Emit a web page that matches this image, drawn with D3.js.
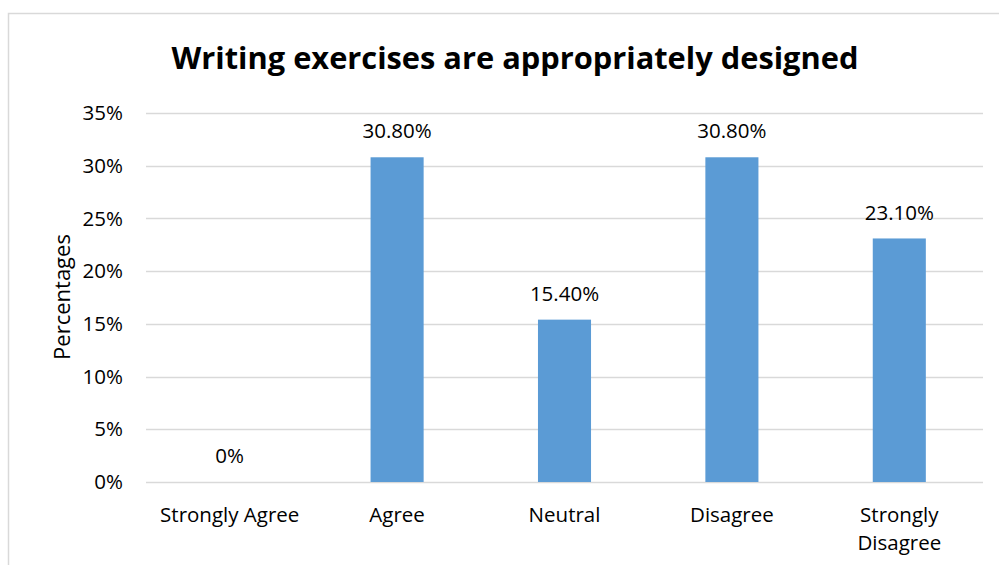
<!DOCTYPE html>
<html>
<head>
<meta charset="utf-8">
<script src="https://cdn.jsdelivr.net/npm/d3@7"></script>
<style>
  body { margin: 0; background: #fff; }
  text { font-family: "Open Sans", "Noto Sans", sans-serif; fill: #000; }
</style>
</head>
<body>
<div id="chart"></div>
<script>
// data
const categories = ["Strongly Agree", "Agree", "Neutral", "Disagree", "Strongly Disagree"];
const values = [0, 30.8, 15.4, 30.8, 23.1];
const valueLabels = ["0%", "30.80%", "15.40%", "30.80%", "23.10%"];
const yTicks = [0, 5, 10, 15, 20, 25, 30, 35];

const W = 999, H = 565;
const margin = { top: 113, right: 16, bottom: 83, left: 146 },
      width = W - margin.left - margin.right,
      height = H - margin.top - margin.bottom;

const root = d3.select("#chart").append("svg")
    .attr("width", W)
    .attr("height", H);

// chart border (top and left only visible)
root.append("path")
    .attr("d", `M8.5,${H} V13.5 H${W}`)
    .attr("fill", "none")
    .attr("stroke", "#d9d9d9")
    .attr("stroke-width", 1.5);

const svg = root.append("g")
    .attr("transform", `translate(${margin.left},${margin.top})`);

const x = d3.scaleBand()
    .domain(categories)
    .range([0, width])
    .paddingInner(0.683)
    .paddingOuter(0.3415);

const y = d3.scaleLinear()
    .domain([0, 35])
    .range([height, 0]);

// gridlines
svg.selectAll(".grid")
    .data(yTicks)
    .enter()
    .append("line")
    .attr("x1", 0)
    .attr("x2", width)
    .attr("y1", d => Math.round(y(d)) + 0.5)
    .attr("y2", d => Math.round(y(d)) + 0.5)
    .attr("stroke", "#d9d9d9")
    .attr("stroke-width", 1.3);

// y tick labels
svg.selectAll(".ytick")
    .data(yTicks)
    .enter()
    .append("text")
    .attr("x", -23)
    .attr("y", d => y(d))
    .attr("dy", "0.35em")
    .attr("text-anchor", "end")
    .style("font-size", "20.5px")
    .text(d => d + "%");

// bars
svg.selectAll(".bar")
    .data(values)
    .enter()
    .append("rect")
    .attr("x", (d, i) => x(categories[i]))
    .attr("y", d => y(d))
    .attr("width", x.bandwidth())
    .attr("height", d => height - y(d))
    .attr("fill", "#5b9bd5");

// value labels
svg.selectAll(".label")
    .data(values)
    .enter()
    .append("text")
    .attr("x", (d, i) => x(categories[i]) + x.bandwidth() / 2)
    .attr("y", d => y(d) - 26)
    .attr("dy", "0.35em")
    .attr("text-anchor", "middle")
    .style("font-size", "20.5px")
    .text((d, i) => valueLabels[i]);

// category labels
const cat = svg.selectAll(".cat")
    .data(categories)
    .enter()
    .append("text")
    .attr("text-anchor", "middle")
    .attr("transform", d => `translate(${x(d) + x.bandwidth() / 2},${height + 33})`)
    .style("font-size", "20.5px");

cat.each(function(d) {
    const lines = d === "Strongly Disagree" ? ["Strongly", "Disagree"] : [d];
    d3.select(this).selectAll("tspan")
        .data(lines)
        .enter()
        .append("tspan")
        .attr("x", 0)
        .attr("dy", (l, j) => j === 0 ? "0.35em" : "1.37em")
        .text(l => l);
});

// axis title
root.append("text")
    .attr("transform", "translate(62,297) rotate(-90)")
    .attr("dy", "0.35em")
    .attr("text-anchor", "middle")
    .style("font-size", "22px")
    .text("Percentages");

// title
root.append("text")
    .attr("x", 515)
    .attr("y", 58)
    .attr("dy", "0.35em")
    .attr("text-anchor", "middle")
    .style("font-size", "30.8px")
    .style("font-weight", "bold")
    .text("Writing exercises are appropriately designed");
</script>
</body>
</html>
